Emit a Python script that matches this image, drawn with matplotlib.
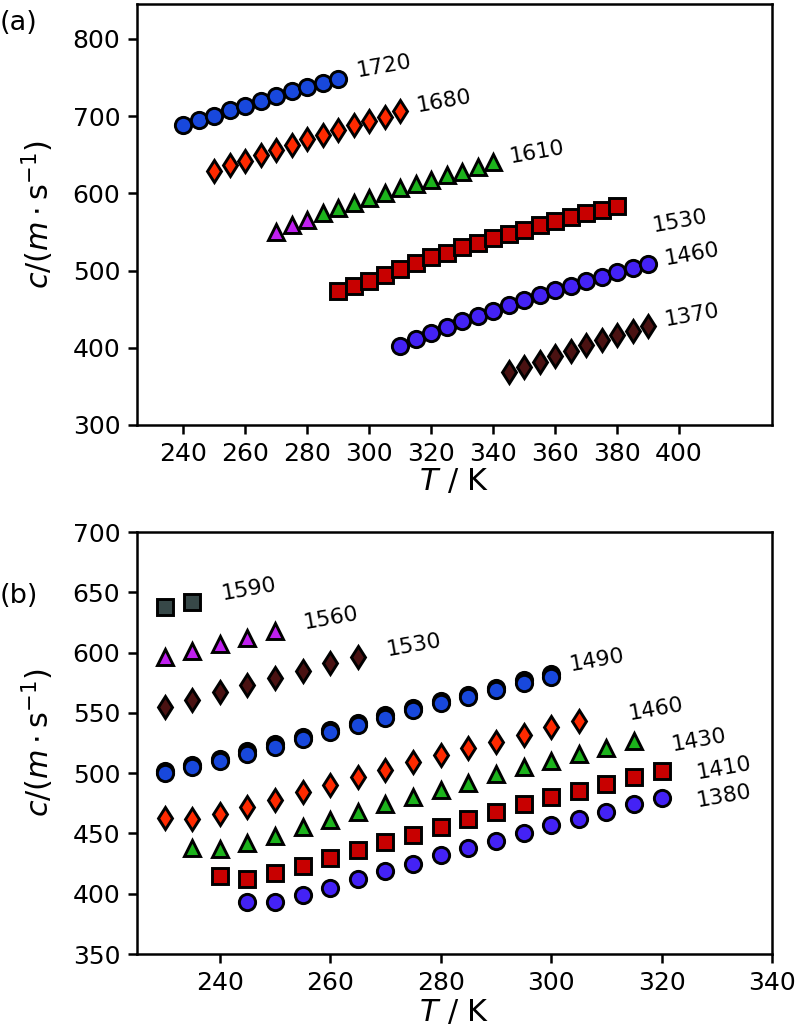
import matplotlib
matplotlib.use("Agg")
import matplotlib.pyplot as plt

# ---------------- panel (a) ----------------
T_a_1720 = [240, 245, 250, 255, 260, 265, 270, 275, 280, 285, 290]
c_a_1720 = [688, 695, 700, 708, 713, 720, 726, 732, 737, 743, 748]

T_a_1680 = [250, 255, 260, 265, 270, 275, 280, 285, 290, 295, 300, 305, 310]
c_a_1680 = [629, 636, 642, 649, 656, 662, 670, 675, 682, 688, 694, 699, 706]

T_a_1610_low = [270, 275, 280]
c_a_1610_low = [550, 559, 565]
T_a_1610 = [285, 290, 295, 300, 305, 310, 315, 320, 325, 330, 335, 340]
c_a_1610 = [574, 581, 587, 594, 600, 607, 612, 617, 623, 628, 634, 640]

T_a_1530 = [290, 295, 300, 305, 310, 315, 320, 325, 330, 335, 340, 345,
            350, 355, 360, 365, 370, 375, 380]
c_a_1530 = [473, 480, 487, 494, 502, 510, 517, 523, 530, 536, 542, 547,
            553, 559, 564, 569, 574, 578, 583]

T_a_1460 = [310, 315, 320, 325, 330, 335, 340, 345, 350, 355, 360, 365,
            370, 375, 380, 385, 390]
c_a_1460 = [402, 411, 419, 427, 434, 441, 448, 455, 462, 468, 475, 480,
            486, 492, 498, 503, 508]

T_a_1370 = [345, 350, 355, 360, 365, 370, 375, 380, 385, 390]
c_a_1370 = [368, 375, 382, 389, 396, 403, 410, 416, 422, 428]

# ---------------- panel (b) ----------------
T_b_1590 = [230, 235]
c_b_1590 = [638, 642]

T_b_1560 = [230, 235, 240, 245, 250]
c_b_1560 = [596, 601, 607, 612, 618]

T_b_1530 = [230, 235, 240, 245, 250, 255, 260, 265]
c_b_1530 = [555, 561, 567, 573, 579, 585, 591, 596]

T_b_1490 = [230, 235, 240, 245, 250, 255, 260, 265, 270, 275, 280, 285,
            290, 295, 300]
c_b_1490 = [500, 505, 510, 516, 522, 528, 534, 540, 546, 552, 558, 563,
            569, 575, 580]
c_b_1490_ref = [502, 507, 512, 518, 524, 530, 536, 542, 548, 554, 560, 565,
                571, 577, 582]

T_b_1460 = [230, 235, 240, 245, 250, 255, 260, 265, 270, 275, 280, 285,
            290, 295, 300, 305]
c_b_1460 = [463, 462, 466, 472, 478, 484, 490, 497, 503, 509, 515, 521,
            526, 532, 538, 543]

T_b_1430 = [235, 240, 245, 250, 255, 260, 265, 270, 275, 280, 285, 290,
            295, 300, 305, 310, 315]
c_b_1430 = [438, 437, 442, 448, 455, 461, 468, 474, 480, 486, 492, 499,
            505, 510, 516, 521, 527]

T_b_1410 = [240, 245, 250, 255, 260, 265, 270, 275, 280, 285, 290, 295,
            300, 305, 310, 315, 320]
c_b_1410 = [415, 412, 417, 423, 430, 436, 443, 449, 455, 462, 468, 474,
            480, 485, 491, 497, 502]

T_b_1380 = [245, 250, 255, 260, 265, 270, 275, 280, 285, 290, 295, 300,
            305, 310, 315, 320]
c_b_1380 = [393, 393, 399, 405, 412, 419, 425, 432, 438, 444, 450, 457,
            462, 468, 474, 479]

BLUE = "#1848dc"
ORANGE = "#ff2a00"
GREEN = "#1cb31c"
PURPLE = "#c020f0"
DARKRED = "#c80000"
VIOLET = "#4422f5"
BROWN = "#4a1212"
SLATE = "#374848"

MS = 7.8
MEW = 1.4

plt.rcParams["font.family"] = "DejaVu Sans"
plt.rcParams["mathtext.fontset"] = "dejavusans"

fig = plt.figure(figsize=(5.3, 6.9), dpi=150)
W, H = 795.0, 1035.0
ax_a = fig.add_axes([137 / W, 1 - 425 / H, 635 / W, 421 / H])
ax_b = fig.add_axes([137 / W, 1 - 954 / H, 635 / W, 422 / H])


def scatter(ax, T, c, marker, color):
    ax.plot(T, c, linestyle="none", marker=marker, ms=MS, mfc=color,
            mec="black", mew=MEW)


def tag(ax, T, c, text, dx, dy):
    ax.annotate(text, (T[-1], c[-1]), xytext=(dx, dy),
                textcoords="offset points", ha="center", va="center",
                rotation=10, fontsize=10.5)


# panel (a)
scatter(ax_a, T_a_1720, c_a_1720, "o", BLUE)
scatter(ax_a, T_a_1680, c_a_1680, "d", ORANGE)
scatter(ax_a, T_a_1610_low, c_a_1610_low, "^", PURPLE)
scatter(ax_a, T_a_1610, c_a_1610, "^", GREEN)
scatter(ax_a, T_a_1530, c_a_1530, "s", DARKRED)
scatter(ax_a, T_a_1460, c_a_1460, "o", VIOLET)
scatter(ax_a, T_a_1370, c_a_1370, "d", BROWN)

tag(ax_a, T_a_1720, c_a_1720, "1720", 22, 6)
tag(ax_a, T_a_1680, c_a_1680, "1680", 21, 5)
tag(ax_a, T_a_1610, c_a_1610, "1610", 21, 5)
tag(ax_a, T_a_1530, c_a_1530, "1530", 30, -7)
tag(ax_a, T_a_1460, c_a_1460, "1460", 21, 5)
tag(ax_a, T_a_1370, c_a_1370, "1370", 21, 5)

ax_a.set_xlim(225, 430)
ax_a.set_ylim(300, 845)
ax_a.set_xticks([240, 260, 280, 300, 320, 340, 360, 380, 400])
ax_a.set_yticks([300, 400, 500, 600, 700, 800])

# panel (b)
scatter(ax_b, T_b_1590, c_b_1590, "s", SLATE)
scatter(ax_b, T_b_1560, c_b_1560, "^", PURPLE)
scatter(ax_b, T_b_1530, c_b_1530, "d", BROWN)
scatter(ax_b, T_b_1490, c_b_1490_ref, "o", "black")
scatter(ax_b, T_b_1490, c_b_1490, "o", BLUE)
scatter(ax_b, T_b_1460, c_b_1460, "d", ORANGE)
scatter(ax_b, T_b_1430, c_b_1430, "^", GREEN)
scatter(ax_b, T_b_1410, c_b_1410, "s", DARKRED)
scatter(ax_b, T_b_1380, c_b_1380, "o", VIOLET)

tag(ax_b, T_b_1590, c_b_1590, "1590", 27, 6)
tag(ax_b, T_b_1560, c_b_1560, "1560", 27, 6)
tag(ax_b, T_b_1530, c_b_1530, "1530", 27, 6)
tag(ax_b, T_b_1490, c_b_1490, "1490", 22, 8)
tag(ax_b, T_b_1460, c_b_1460, "1460", 37, 6)
tag(ax_b, T_b_1430, c_b_1430, "1430", 31, 0)
tag(ax_b, T_b_1410, c_b_1410, "1410", 30, 1)
tag(ax_b, T_b_1380, c_b_1380, "1380", 30, 1)

ax_b.set_xlim(225, 340)
ax_b.set_ylim(350, 700)
ax_b.set_xticks([240, 260, 280, 300, 320, 340])
ax_b.set_yticks([350, 400, 450, 500, 550, 600, 650, 700])

for ax in (ax_a, ax_b):
    ax.tick_params(labelsize=12, width=1.2, length=4.5)
    for s in ax.spines.values():
        s.set_linewidth(1.2)
    ax.set_xlabel("$T$ / K", fontsize=14.5)
    ax.set_ylabel(r"$c/(m\cdot \mathrm{s}^{-1})$", fontsize=14.5)
    ax.yaxis.set_label_coords(-0.128, 0.5)

ax_a.xaxis.set_label_coords(0.5, -0.1)
ax_b.xaxis.set_label_coords(0.5, -0.104)

fig.text(0.0, 1 - 23 / H, "(a)", fontsize=13, va="center", ha="left")
fig.text(0.0, 1 - 596 / H, "(b)", fontsize=13, va="center", ha="left")

fig.savefig("out.png", dpi=150)
